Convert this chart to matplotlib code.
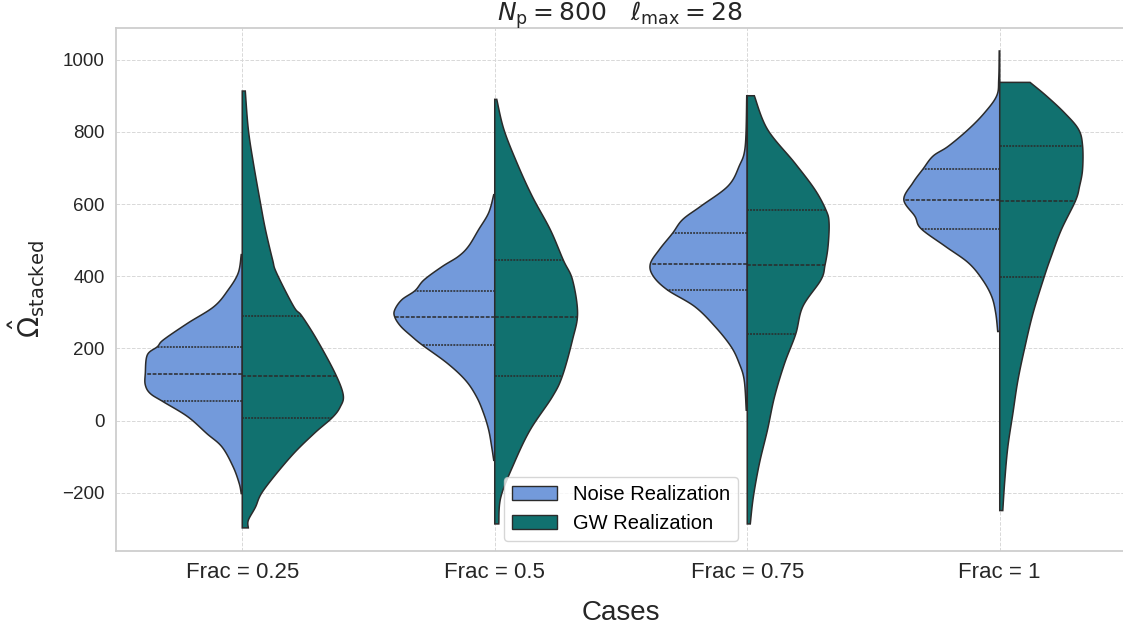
import numpy as np
import matplotlib
matplotlib.use("Agg")
from matplotlib import pyplot as plt
from matplotlib.patches import Patch

plt.rcParams["font.family"] = ["Liberation Sans", "DejaVu Sans"]
plt.rcParams["mathtext.fontset"] = "dejavusans"

# ── data ───────────────────────────────────────────────────────────────────
cases = ["Frac = 0.25", "Frac = 0.5", "Frac = 0.75", "Frac = 1"]
series = ["Noise Realization", "GW Realization"]

# density profiles (relative half-width, 1.0 = widest) at given values
noise_y = [
    [460, 409, 362, 316, 270, 224, 205, 182, 131, 99, 75, 52, 11, -36, -73, -128, -174, -202],
    [626, 576, 529, 483, 455, 427, 390, 360, 335, 307, 287, 261, 233, 210, 159, 112, 66, 20, -26, -73, -110],
    [900, 760, 705, 650, 594, 557, 519, 474, 434, 400, 362, 316, 261, 205, 159, 112, 29],
    [1024, 946, 900, 853, 807, 760, 733, 697, 659, 612, 566, 532, 483, 437, 390, 344, 298, 247],
]
noise_d = [
    [0.01, 0.04, 0.14, 0.28, 0.54, 0.78, 0.84, 0.94, 0.96, 0.96, 0.91, 0.78, 0.54, 0.35, 0.20, 0.09, 0.03, 0.01],
    [0.01, 0.06, 0.16, 0.26, 0.36, 0.52, 0.70, 0.79, 0.92, 0.99, 0.99, 0.93, 0.82, 0.72, 0.47, 0.29, 0.18, 0.11, 0.06, 0.03, 0.01],
    [0.005, 0.02, 0.08, 0.19, 0.46, 0.64, 0.74, 0.87, 0.96, 0.93, 0.79, 0.52, 0.32, 0.16, 0.08, 0.03, 0.01],
    [0.005, 0.01, 0.03, 0.15, 0.31, 0.51, 0.66, 0.76, 0.86, 0.95, 0.84, 0.78, 0.54, 0.31, 0.17, 0.08, 0.04, 0.02],
]
gw_y = [
    [913, 807, 714, 603, 529, 446, 409, 316, 290, 224, 131, 71, 38, 8, -36, -100, -193, -240, -276, -297],
    [890, 807, 714, 622, 529, 444, 390, 298, 224, 124, 66, -26, -119, -212, -286],
    [900, 807, 714, 640, 583, 548, 483, 431, 390, 316, 240, 159, 66, -26, -119, -212, -286],
    [937, 900, 853, 807, 762, 696, 649, 609, 529, 455, 398, 298, 205, 112, 20, -73, -165, -249],
]
gw_d = [
    [0.03, 0.06, 0.11, 0.18, 0.23, 0.30, 0.34, 0.51, 0.59, 0.74, 0.92, 1.00, 0.97, 0.89, 0.71, 0.48, 0.21, 0.13, 0.06, 0.06],
    [0.02, 0.09, 0.22, 0.37, 0.55, 0.68, 0.77, 0.82, 0.77, 0.67, 0.57, 0.35, 0.19, 0.06, 0.04],
    [0.07, 0.20, 0.47, 0.67, 0.78, 0.81, 0.80, 0.77, 0.73, 0.55, 0.48, 0.37, 0.27, 0.20, 0.12, 0.06, 0.03],
    [0.30, 0.46, 0.64, 0.78, 0.82, 0.82, 0.79, 0.75, 0.61, 0.51, 0.44, 0.33, 0.25, 0.18, 0.13, 0.08, 0.05, 0.03],
]

# quartiles (Q1, median, Q3)
noise_q = [[54, 129, 205], [210, 287, 360], [362, 434, 519], [532, 612, 697]]
gw_q = [[8, 124, 290], [124, 287, 444], [240, 431, 583], [398, 609, 762]]

# ── style ──────────────────────────────────────────────────────────────────
NOISE_C = "#739ADB"
GW_C = "#11716F"
EDGE = "#2b2b2b"
HALF = 0.4

fig = plt.figure(figsize=(11.23, 6.31), dpi=100)
ax = fig.add_axes([116 / 1123, 80 / 631, 1010 / 1123, 523.5 / 631])


def smooth(ys, ds, n=12):
    # Catmull-Rom pass through the read points, only to round the outline
    p = np.column_stack([ys, ds])
    p = np.vstack([p[0], p, p[-1]])
    out = []
    t = np.linspace(0, 1, n, endpoint=False)[:, None]
    for k in range(1, len(p) - 2):
        p0, p1, p2, p3 = p[k - 1], p[k], p[k + 1], p[k + 2]
        seg = 0.5 * ((2 * p1) + (-p0 + p2) * t
                     + (2 * p0 - 5 * p1 + 4 * p2 - p3) * t ** 2
                     + (-p0 + 3 * p1 - 3 * p2 + p3) * t ** 3)
        out.append(seg)
    out.append(p[-2][None, :])
    out = np.vstack(out)
    return out[:, 0], np.clip(out[:, 1], 0, None)


def half_violin(pos, ys, ds, q, side, color):
    ys = np.asarray(ys, float)
    ds = np.asarray(ds, float) * HALF
    sy, sd = smooth(ys, ds)
    px = np.concatenate([[pos], pos + side * sd, [pos]])
    py = np.concatenate([[sy[0]], sy, [sy[-1]]])
    ax.fill(px, py, facecolor=color, edgecolor=EDGE, linewidth=1.1, zorder=3)
    # quartile lines
    order = np.argsort(sy)
    for k, val in enumerate(q):
        w = np.interp(val, sy[order], sd[order])
        ls = (0, (2.5, 1)) if k == 1 else (0, (1.25, 0.75))
        ax.plot([pos, pos + side * w], [val, val], color=EDGE, lw=1.1,
                linestyle=ls, zorder=4)


for i in range(len(cases)):
    half_violin(i, noise_y[i], noise_d[i], noise_q[i], -1, NOISE_C)
    half_violin(i, gw_y[i], gw_d[i], gw_q[i], 1, GW_C)

ax.set_xlim(-0.5, 3.5)
ax.set_ylim(-361, 1089)
ax.set_xticks(range(len(cases)))
ax.set_xticklabels(cases, fontsize=16, color="#262626")
ax.set_yticks(range(-200, 1001, 200))
ax.tick_params(axis="y", labelsize=13.5, colors="#262626", length=0, pad=8)
ax.tick_params(axis="x", length=0, pad=8)

ax.grid(True, linestyle="--", linewidth=0.7, color="#d8d8d8", zorder=0)
ax.set_axisbelow(True)
for s in ax.spines.values():
    s.set_color("#cccccc")
    s.set_linewidth(1.25)

ax.set_xlabel("Cases", fontsize=20, color="#262626", labelpad=12)
ax.set_ylabel(r"$\hat{\Omega}_{\rm stacked}$", fontsize=20, color="#262626",
              labelpad=11)
fig.text(0.5515, 1 - 21 / 631, r"$N_{\rm p} = 800 \quad \ell_{\rm max} = 28$",
         fontsize=18, color="#262626", ha="center", va="baseline")

handles = [Patch(facecolor=NOISE_C, edgecolor=EDGE, label=series[0]),
           Patch(facecolor=GW_C, edgecolor=EDGE, label=series[1])]
ax.legend(handles=handles, loc="lower center", fontsize=14.5, frameon=True,
          edgecolor="#cccccc", framealpha=0.8, handlelength=2.2)

fig.savefig("out.png", dpi=100)
